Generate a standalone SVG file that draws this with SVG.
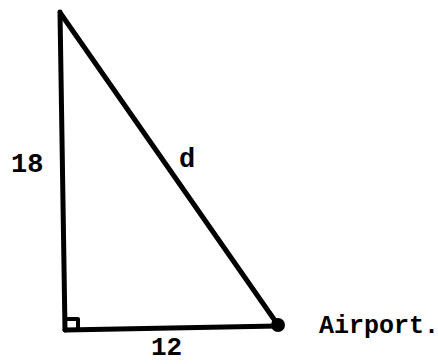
<svg xmlns="http://www.w3.org/2000/svg" width="438" height="364" viewBox="0 0 438 364">
<style>
.l{stroke:#000;stroke-width:5;stroke-linecap:round;stroke-linejoin:round;fill:none}
.t{font-family:"Liberation Mono","Courier New",monospace;font-weight:bold;fill:#000}
</style>
<rect width="438" height="364" fill="#fff"/>
<g id="connectors">
<line class="l" x1="60" y1="12" x2="65" y2="330"/>
<line class="l" x1="61" y1="14" x2="278" y2="325"/>
<line class="l" x1="65" y1="330" x2="278" y2="326"/>
<path class="l" d="M66 319 H78 V329" style="stroke-width:4"/>
</g>
<g id="airport"><circle cx="278" cy="325" r="7" fill="#000"/>
<text class="t" x="319" y="333" font-size="25">Airport.</text></g>
<g id="label18"><text class="t" x="11" y="172" font-size="27">18</text></g>
<g id="labeld"><text class="t" x="179" y="167" font-size="27">d</text></g>
<g id="label12"><text class="t" x="151" y="355" font-size="26">12</text></g>
</svg>
